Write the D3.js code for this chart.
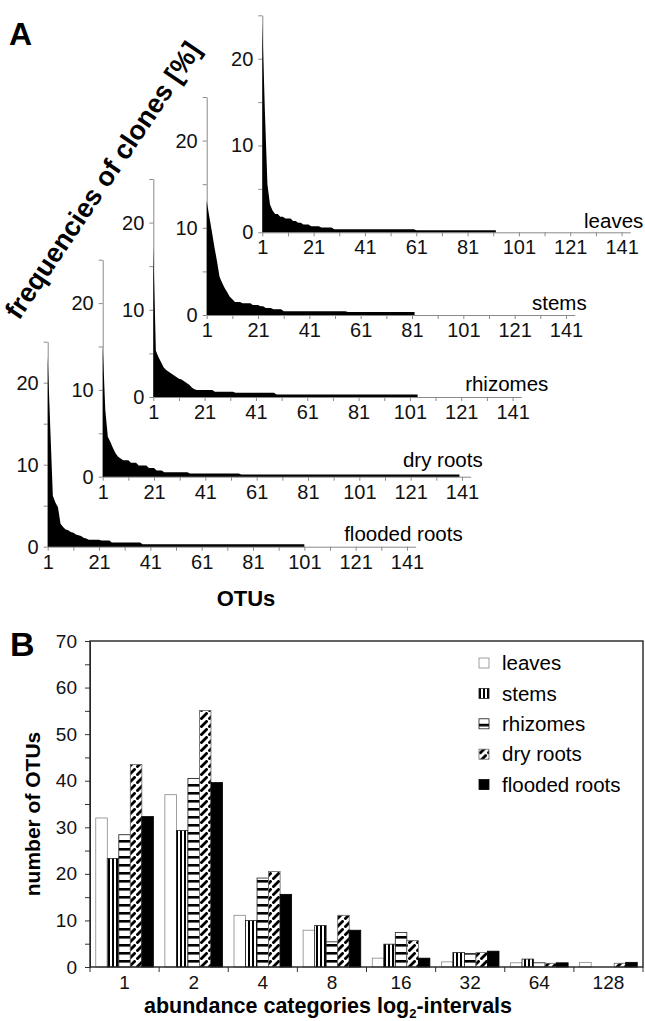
<!DOCTYPE html>
<html lang="en">
<head>
<meta charset="UTF-8">
<title>Clone frequencies and OTU abundance categories</title>
<script src="https://cdnjs.cloudflare.com/ajax/libs/d3/7.8.5/d3.min.js"></script>
<style>
  body { margin: 0; background: #fff; }
  svg { display: block; font-family: "Liberation Sans", Arial, Helvetica, sans-serif; }
  .axA path, .axA line { stroke: #8a8a8a; }
  .axA text { font-size: 20px; fill: #111; }
  .axB path, .axB line { stroke: #333; }
  .axB text { font-size: 19px; fill: #111; }
</style>
</head>
<body>
<svg width="645" height="1021"></svg>
<script>
// ---- panel A: rank/frequency curves, runs of [frequency %, number of OTUs]
const leavesRanks = [[24.2,1],[14,1],[5.5,1],[3.2,1],[2.5,1],[2.1,2],[1.8,2],[1.6,3],[1.3,2],[1.1,2],
  [0.9,3],[0.7,4],[0.55,5],[0.35,32],[0.25,32]];
const stemsRanks = [[13.1,1],[11.3,1],[9.6,1],[7.8,1],[6.2,1],[4.4,1],[3.7,1],[3.1,1],[2.6,1],[2.1,1],
  [1.8,1],[1.5,3],[1.35,4],[1.15,3],[1.0,2],[0.8,3],[0.65,4],[0.42,25],[0.35,27]];
const rhizomesRanks = [[17.3,1],[5.3,1],[4.6,1],[4.0,1],[3.4,1],[3.1,1],[2.9,1],[2.7,1],[2.5,1],[2.3,1],
  [2.1,1],[2.0,1],[1.8,1],[1.6,1],[1.4,1],[1.1,1],[0.9,1],[0.8,7],[0.6,8],[0.5,16],[0.3,56]];
const dryRootsRanks = [[15.2,1],[7.7,1],[4.6,1],[4.0,1],[3.3,1],[2.7,1],[2.3,1],[2.1,1],[1.9,3],[1.6,3],
  [1.3,4],[1.0,3],[0.7,3],[0.5,10],[0.38,20],[0.25,86]];
const floodedRanks = [[23.2,1],[14.5,1],[6.2,1],[5.4,1],[4.8,1],[2.8,1],[2.4,1],[2.1,1],[2.0,1],[1.8,1],
  [1.7,1],[1.5,1],[1.4,1],[1.3,1],[1.1,1],[1.0,1],[0.85,5],[0.75,4],[0.5,12],[0.3,64]];

const samples = ["leaves", "stems", "rhizomes", "dry roots", "flooded roots"];
const freqTicks = [0, 5, 10, 15, 20, 25];
const otuTicks = d3.range(1, 145, 10);

// ---- panel B: number of OTUs per abundance category
const categories = ["1", "2", "4", "8", "16", "32", "64", "128"];
const otusLeaves   = [32, 37, 11.1, 7.9, 1.9, 1.1, 0.9, 1.0];
const otusStems    = [23.3, 29.3, 10, 8.9, 4.9, 3.1, 1.7, 0];
const otusRhizomes = [28.4, 40.5, 19.1, 5.4, 7.4, 2.9, 0.9, 0];
const otusDryRoots = [43.5, 55.1, 20.5, 11.1, 5.7, 3.1, 0.8, 0.8];
const otusFlooded  = [32.3, 39.6, 15.6, 7.9, 1.9, 3.4, 0.9, 1.0];

const svg = d3.select("svg");
const defs = svg.append("defs");

// fill patterns like the old Excel ones
const pStems = defs.append("pattern").attr("id", "pStems")
  .attr("patternUnits", "userSpaceOnUse").attr("width", 4).attr("height", 4);
pStems.append("rect").attr("width", 4).attr("height", 4).attr("fill", "#fff");
pStems.append("rect").attr("width", 2).attr("height", 4).attr("fill", "#000");

const pRhiz = defs.append("pattern").attr("id", "pRhiz")
  .attr("patternUnits", "userSpaceOnUse").attr("width", 8).attr("height", 8);
pRhiz.append("rect").attr("width", 8).attr("height", 8).attr("fill", "#fff");
pRhiz.append("rect").attr("width", 8).attr("height", 2.6).attr("fill", "#000");

const pDry = defs.append("pattern").attr("id", "pDry")
  .attr("patternUnits", "userSpaceOnUse").attr("width", 8).attr("height", 8);
pDry.append("rect").attr("width", 8).attr("height", 8).attr("fill", "#fff");
pDry.append("path").attr("d", "M0.5,7.5L7.5,0.5").attr("stroke", "#000").attr("stroke-width", 2.8);

// ================= panel A =================
svg.append("text").attr("x", 9).attr("y", 45)
  .attr("font-size", 32).attr("font-weight", "bold").text("A");

const rankData = [leavesRanks, stemsRanks, rhizomesRanks, dryRootsRanks, floodedRanks];
// plot origins (y axis x, baseline y), plot height and label anchor offsets
const layoutA = [
  { ox: 262.3, oy: 232.3, h: 217, lx: 381, ly: -4 },
  { ox: 206.7, oy: 315,   h: 218, lx: 380, ly: -5 },
  { ox: 153.3, oy: 397,   h: 218, lx: 395, ly: -6 },
  { ox: 102.7, oy: 476.7, h: 217, lx: 380, ly: -10 },
  { ox: 47.7,  oy: 546.7, h: 205, lx: 415, ly: -6 }
];
const wA = 368;

samples.forEach((name, k) => {
  const L = layoutA[k];
  const vals = rankData[k].flatMap(([v, n]) => Array(n).fill(v));
  const x = d3.scaleLinear().domain([1, 144.4]).range([0, wA]);
  const y = d3.scaleLinear().domain([0, 25]).range([L.h, 0]);
  const g = svg.append("g").attr("transform", `translate(${L.ox},${L.oy - L.h})`);

  g.append("g").attr("class", "axA")
    .call(d3.axisLeft(y).tickValues(freqTicks).tickSize(4).tickSizeOuter(0).tickPadding(5)
      .tickFormat(d => d % 10 === 0 ? d : ""));
  g.append("g").attr("class", "axA").attr("transform", `translate(0,${L.h})`)
    .call(d3.axisBottom(x).tickValues(otuTicks).tickSize(4).tickSizeOuter(0).tickPadding(4)
      .tickFormat(d => (d - 1) % 20 === 0 ? d : ""));

  g.append("path").datum(vals)
    .attr("fill", "#000")
    .attr("d", d3.area().x((d, i) => x(i + 1)).y0(y(0)).y1(d => y(d)));

  svg.append("text").attr("x", L.ox + L.lx).attr("y", L.oy + L.ly)
    .attr("text-anchor", "end").attr("font-size", 20.5).text(name);
});

svg.append("text")
  .attr("transform", "translate(19,321) rotate(-56)")
  .attr("font-size", 27).attr("font-weight", "bold")
  .text("frequencies of clones [%]");

svg.append("text").attr("x", 246).attr("y", 606).attr("text-anchor", "middle")
  .attr("font-size", 22).attr("font-weight", "bold").text("OTUs");

// ================= panel B =================
svg.append("text").attr("x", 10).attr("y", 656)
  .attr("font-size", 34).attr("font-weight", "bold").text("B");

const bx = 90, by = 641, bw = 553, bh = 326;
const seriesB = [otusLeaves, otusStems, otusRhizomes, otusDryRoots, otusFlooded];
const fills = ["#fff", "url(#pStems)", "url(#pRhiz)", "url(#pDry)", "#000"];
const strokes = ["#888", "#222", "#222", "#666", "#000"];

const xB = d3.scaleBand().domain(categories).range([bx, bx + bw]);
const xSub = d3.scaleBand().domain(samples).range([5.75, xB.bandwidth() - 5.75]);
const yB = d3.scaleLinear().domain([0, 70]).range([by + bh, by]);

samples.forEach((name, k) => {
  svg.append("g").selectAll("rect")
    .data(categories.map((c, i) => ({ c, v: seriesB[k][i] })).filter(d => d.v > 0))
    .join("rect")
    .attr("x", d => xB(d.c) + xSub(name))
    .attr("width", xSub.bandwidth())
    .attr("y", d => yB(d.v))
    .attr("height", d => yB(0) - yB(d.v))
    .attr("fill", fills[k])
    .attr("stroke", strokes[k])
    .attr("stroke-width", 0.8);
});

svg.append("g").attr("class", "axB").attr("transform", `translate(${bx},0)`)
  .call(d3.axisLeft(yB).tickValues(d3.range(0, 71, 5)).tickSize(5).tickSizeOuter(0).tickPadding(8)
    .tickFormat(d => d % 10 === 0 ? d : ""));

// category axis: ticks between groups, labels centred
const xAxisB = svg.append("g").attr("class", "axB");
xAxisB.selectAll("line")
  .data(categories.concat(["end"]))
  .join("line")
  .attr("x1", d => d === "end" ? bx + bw : xB(d))
  .attr("x2", d => d === "end" ? bx + bw : xB(d))
  .attr("y1", by + bh).attr("y2", by + bh + 5);
xAxisB.selectAll("text")
  .data(categories)
  .join("text")
  .attr("x", d => xB(d) + xB.bandwidth() / 2)
  .attr("y", by + bh + 22)
  .attr("text-anchor", "middle")
  .text(d => d);

svg.append("rect").attr("x", bx).attr("y", by).attr("width", bw).attr("height", bh)
  .attr("fill", "none").attr("stroke", "#222").attr("stroke-width", 1.4);

svg.append("text")
  .attr("transform", `translate(40,814) rotate(-90)`)
  .attr("text-anchor", "middle").attr("font-size", 21).attr("font-weight", "bold")
  .text("number of OTUs");

const xt = svg.append("text").attr("x", 328).attr("y", 1013)
  .attr("text-anchor", "middle").attr("font-size", 21.5).attr("font-weight", "bold");
xt.append("tspan").text("abundance categories log");
xt.append("tspan").attr("font-size", 13).attr("dy", 5).text("2");
xt.append("tspan").attr("dy", -5).text("-intervals");

// legend
const leg = svg.append("g").attr("transform", "translate(479,663)");
samples.forEach((name, k) => {
  const row = leg.append("g").attr("transform", `translate(0,${k * 30.4})`);
  row.append("rect").attr("x", 0).attr("y", -5).attr("width", 10).attr("height", 10)
    .attr("fill", fills[k]).attr("stroke", strokes[k]).attr("stroke-width", 0.8);
  row.append("text").attr("x", 23).attr("y", 0).attr("dy", "0.35em")
    .attr("font-size", 20.5).text(name);
});
</script>
</body>
</html>
